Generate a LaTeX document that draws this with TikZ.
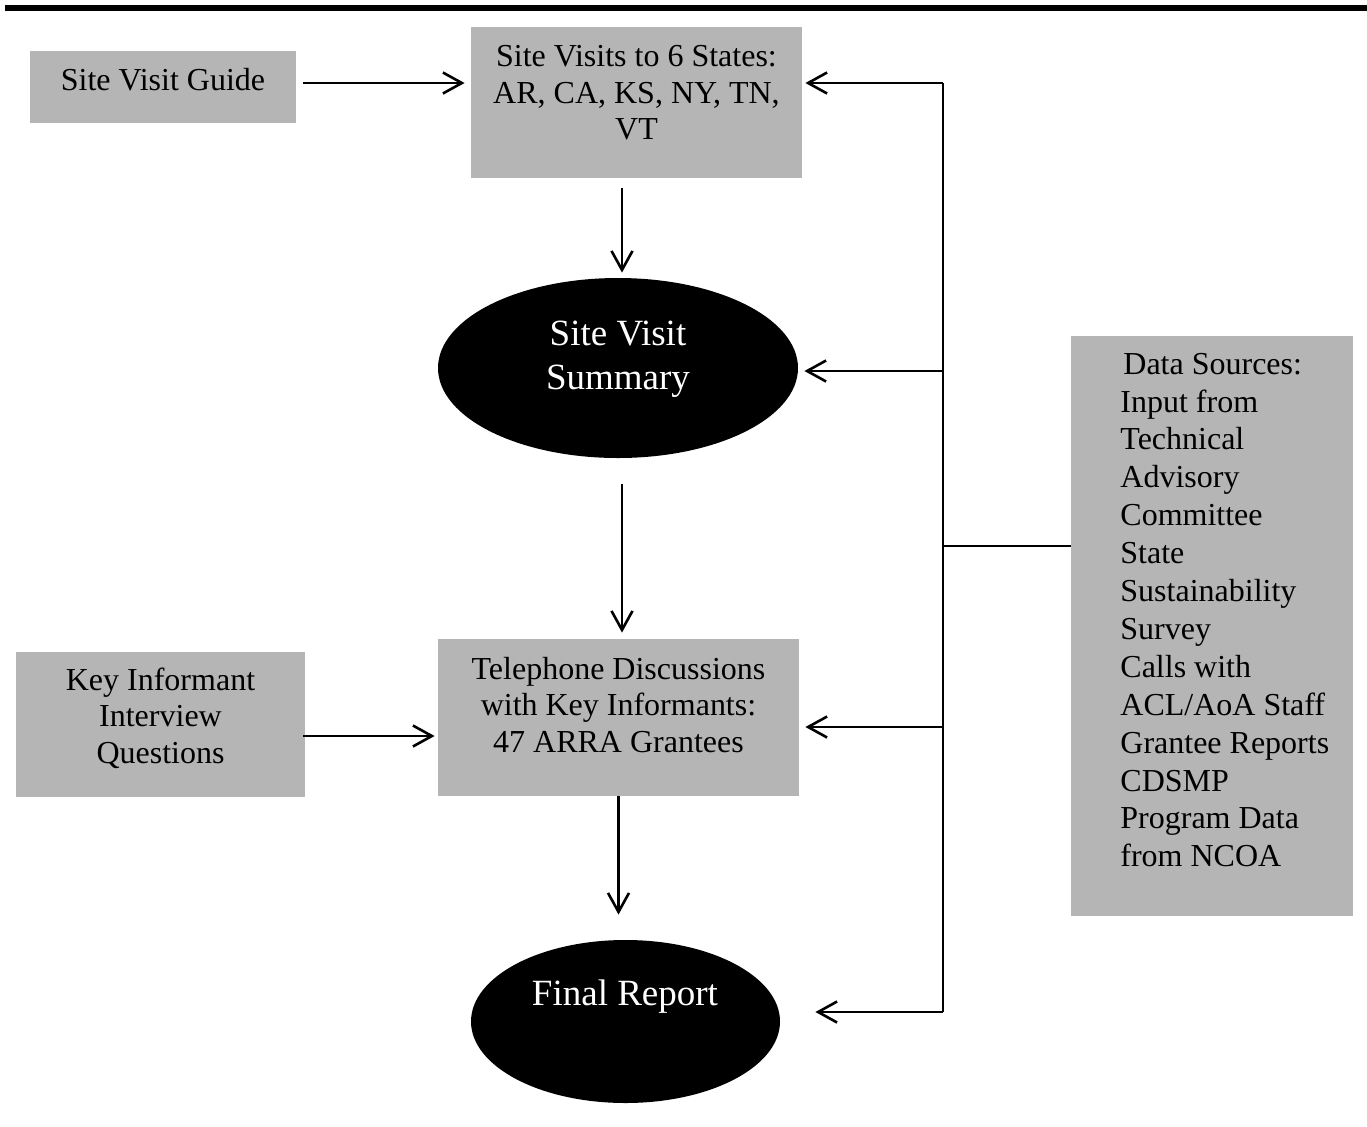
\documentclass[tikz,border=0pt]{standalone}
\usepackage{fontspec}
\setmainfont{Liberation Serif}
\usetikzlibrary{arrows.meta,shapes.geometric}
\definecolor{boxgray}{RGB}{181,181,181}
\tikzset{
  box/.style={rectangle, fill=boxgray, draw=none, inner sep=0pt},
  blackoval/.style={ellipse, fill=black, draw=none, inner sep=0pt},
  txt/.style={align=center, inner sep=0pt, font=\fontsize{16}{18.3}\selectfont},
  wtxt/.style={align=center, inner sep=0pt, text=white, font=\fontsize{18.5}{22}\selectfont},
  arr/.style={line width=1.3pt, -{Straight Barb[length=9.5pt,width=10.5pt,line width=1.3pt]}},
  ln/.style={line width=1.3pt},
}
\begin{document}
\begin{tikzpicture}[x=0.5pt,y=-0.5pt]
\useasboundingbox (0,0) rectangle (1367,1126);
% top rule
\fill (5,5) rectangle (1367,11);
% boxes
\node[box, minimum width=133pt, minimum height=36pt] (guide) at (163,87) {};
\node[txt] (guidet) at (163,80) {Site Visit Guide};
\node[box, minimum width=165.5pt, minimum height=75.5pt] (sv) at (636.5,102.5) {};
\node[txt] (svt) at (636.5,93) {Site Visits to 6 States:\\AR, CA, KS, NY, TN,\\VT};
\node[blackoval, minimum width=180pt, minimum height=90pt] (svs) at (618,368) {};
\node[wtxt] (svst) at (618,359) {Site Visit\\Summary};
\node[box, minimum width=180.5pt, minimum height=78.5pt] (tel) at (618.5,717.5) {};
\node[txt] (telt) at (618.5,705) {Telephone Discussions\\with Key Informants:\\47 ARRA Grantees};
\node[box, minimum width=144.5pt, minimum height=72.5pt] (kiq) at (160.5,724.5) {};
\node[txt] (kiqt) at (160.5,718) {Key Informant\\Interview\\Questions};
\node[blackoval, minimum width=154.5pt, minimum height=81.5pt] (fr) at (625.5,1021.5) {};
\node[wtxt] (frt) at (625,997) {Final Report};
\node[box, minimum width=141pt, minimum height=290pt] (ds) at (1212,626) {};
\node[txt, align=left, anchor=west, font=\fontsize{16}{18.95}\selectfont] (dst) at (1120,610) {\hspace{1.5pt}Data Sources:\\Input from\\Technical\\Advisory\\Committee\\State\\Sustainability\\Survey\\Calls with\\ACL/AoA Staff\\Grantee Reports\\CDSMP\\Program Data\\from NCOA};
% bus coordinates
\coordinate (btop) at (943,83);
\coordinate (bsvs) at (943,371);
\coordinate (bjoin) at (943,546);
\coordinate (btel) at (943,727);
\coordinate (bfr) at (943,1012);
% main flow arrows
\draw[arr] ([xshift=3.5pt,yshift=2pt]guide.east) -- ([xshift=-3pt,yshift=2pt]guide.east -| sv.west);
\draw[arr] ([yshift=-5pt]sv.south -| 622,0) -- ([yshift=2.5pt]svs.north -| 622,0);
\draw[arr] ([yshift=-13pt]svs.south -| 622,0) -- ([yshift=3pt]tel.north -| 622,0);
\draw[arr] (tel.south) -- ([yshift=12.5pt]fr.north -| tel.south);
\draw[arr] ([xshift=-1pt,yshift=-5.75pt]kiq.east) -- ([xshift=-1.5pt,yshift=-5.75pt]kiq.east -| tel.west);
% data source bus
\draw[ln] (ds.west |- bjoin) -- (bjoin);
\draw[ln] (btop) -- (bfr);
\draw[arr] (btop) -- ([xshift=1.5pt]btop -| sv.east);
\draw[arr] (bsvs) -- ([xshift=3pt]bsvs -| svs.east);
\draw[arr] (btel) -- ([xshift=3pt]btel -| tel.east);
\draw[arr] (bfr) -- ([xshift=17.5pt]bfr -| fr.east);
\end{tikzpicture}
\end{document}
